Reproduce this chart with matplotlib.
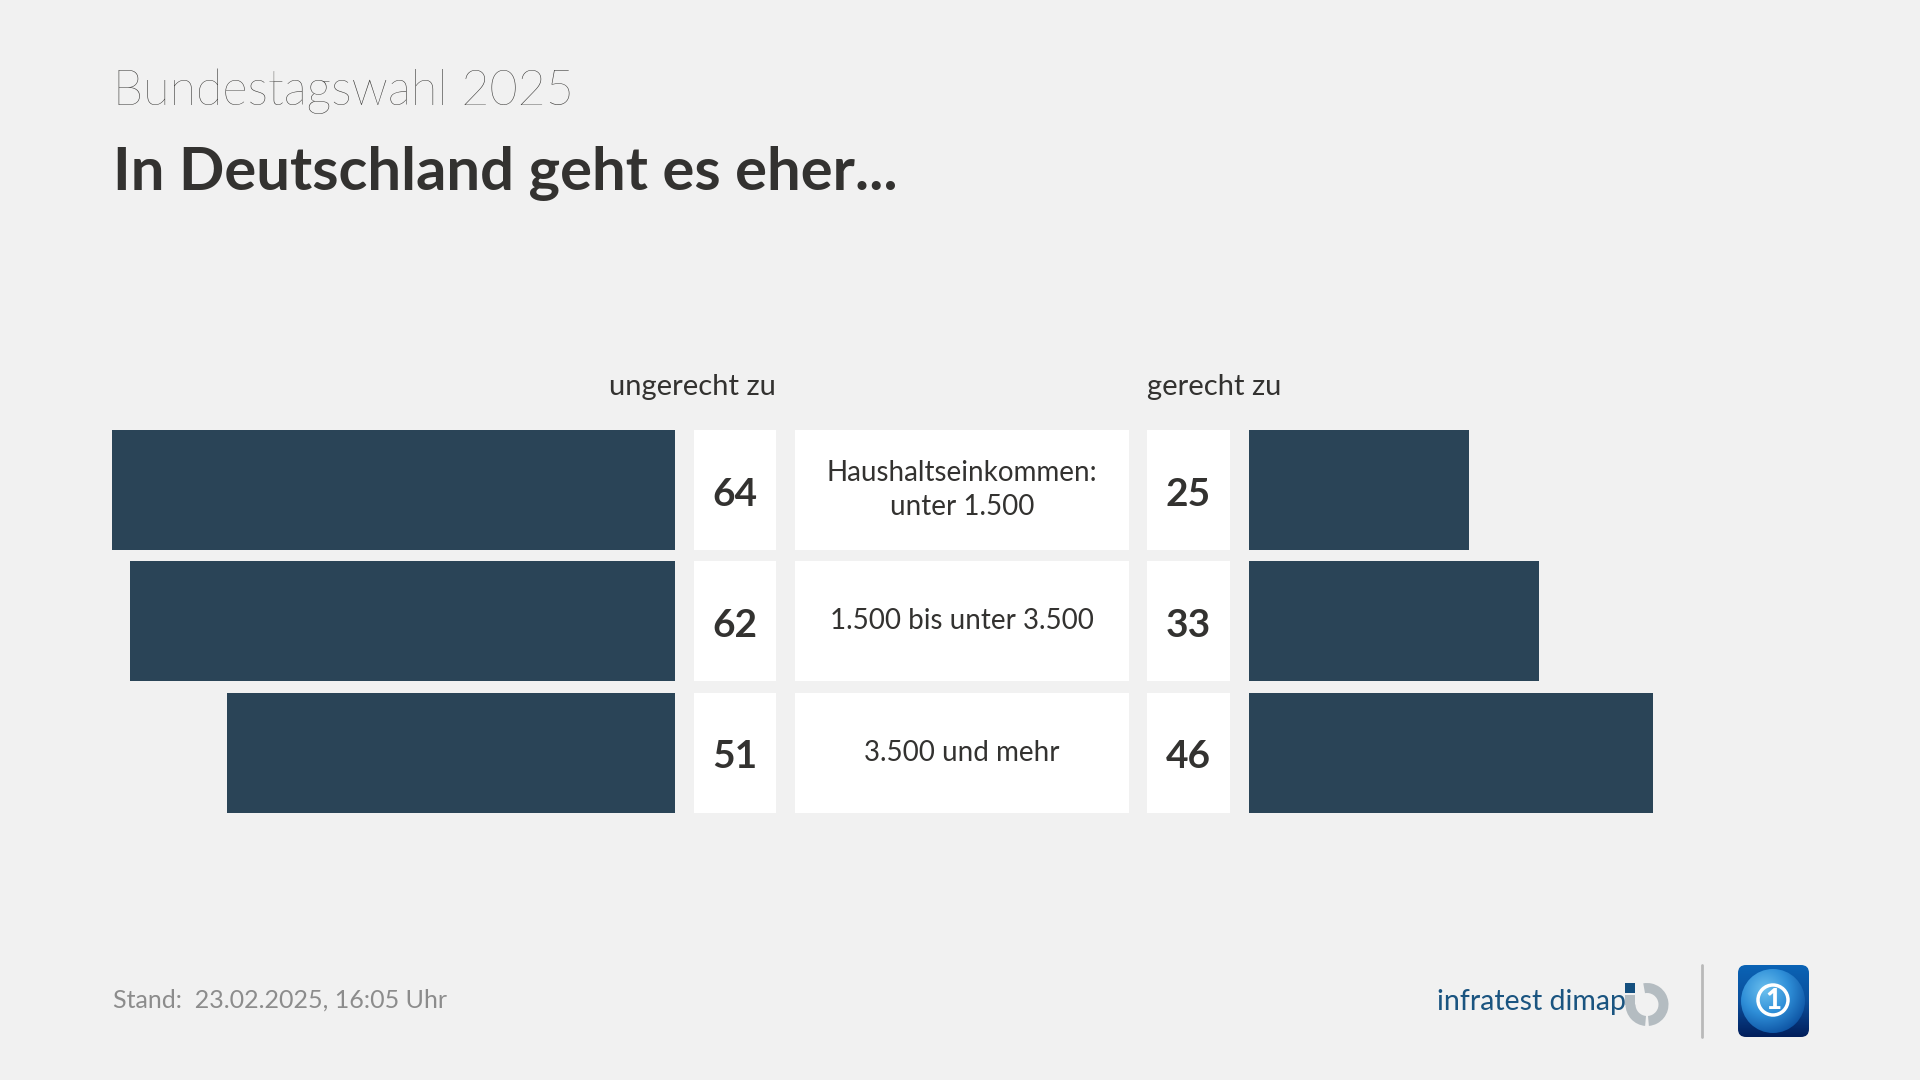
import matplotlib
matplotlib.use("Agg")
import matplotlib.pyplot as plt
import numpy as np
from matplotlib.patches import Circle, FancyBboxPatch, Rectangle, Wedge

# values
categories = ["Haushaltseinkommen:\nunter 1.500", "1.500 bis unter 3.500", "3.500 und mehr"]
ungerecht = [64, 62, 51]
gerecht = [25, 33, 46]

BG = "#f1f1f1"
BAR = "#2a4457"
TEXT = "#333230"
FONT = "Lato"
PX_PER_UNIT = 8.79
W, H = 1920, 1080

plt.rcParams["font.family"] = FONT
fig = plt.figure(figsize=(W / 100, H / 100), dpi=100, facecolor=BG)

# overlay in pixel coordinates for boxes, texts and logos
ov = fig.add_axes([0, 0, 1, 1], zorder=1)
ov.set_xlim(0, W)
ov.set_ylim(H, 0)
ov.axis("off")

# bar axes share the row positions, one unit = one percent point
row_top, row_pitch, row_h = 430, 131.4, 120
y_top = row_top - (row_pitch - row_h) / 2
y_bottom = y_top + row_pitch * len(categories)
bar_h = row_h / row_pitch


def bar_axes(x0, x1, xlim):
    ax = fig.add_axes([x0 / W, 1 - y_bottom / H, (x1 - x0) / W, (y_bottom - y_top) / H], zorder=2)
    ax.set_xlim(*xlim)
    ax.set_ylim(len(categories) - 0.5, -0.5)
    ax.axis("off")
    return ax


ax_l = bar_axes(0, 675, (675 / PX_PER_UNIT, 0))
ax_r = bar_axes(1249, W, (0, (W - 1249) / PX_PER_UNIT))
ax_l.barh(range(len(categories)), ungerecht, height=bar_h, color=BAR)
ax_r.barh(range(len(categories)), gerecht, height=bar_h, color=BAR)

# white cells with numbers and row labels
for i, cat in enumerate(categories):
    y0 = row_top + i * row_pitch
    yc = y0 + row_h / 2
    for x0, x1 in [(694, 776), (795, 1129), (1147, 1230)]:
        ov.add_patch(Rectangle((x0, y0), x1 - x0, row_h, fc="white", ec="none"))
    ov.text(735, yc + 1, str(ungerecht[i]), ha="center", va="center_baseline", fontsize=28, fontweight="bold", color=TEXT)
    ov.text(1188.5, yc + 1, str(gerecht[i]), ha="center", va="center_baseline", fontsize=28, fontweight="bold", color=TEXT)
    ov.text(962, yc, cat, ha="center", va="center", fontsize=20, color=TEXT, linespacing=1.35)

ov.text(776, 395, "ungerecht zu", ha="right", va="baseline", fontsize=21, color=TEXT)
ov.text(1147, 395, "gerecht zu", ha="left", va="baseline", fontsize=21, color=TEXT)

ov.text(113, 105, "Bundestagswahl 2025", ha="left", va="baseline", fontsize=35, fontweight="light", color=TEXT)
ov.text(113, 190, "In Deutschland geht es eher...", ha="left", va="baseline", fontsize=43, fontweight="bold", color=TEXT)
ov.text(113, 1008, "Stand:  23.02.2025, 16:05 Uhr", ha="left", va="baseline", fontsize=18, color="#8c8c8c")

# infratest dimap logo
ov.text(1437, 1010, "infratest dimap", ha="left", va="baseline", fontsize=20.5, color="#1a5480")
ov.add_patch(Rectangle((1625, 983), 10, 10, fc="#15507f", ec="none"))
ring = "#b4bcc1"
ov.add_patch(Wedge((1647, 1004.5), 21.5, -100, 85, width=10, fc=ring, ec="none"))
ov.add_patch(Wedge((1647, 1004.5), 21.5, 95, 180, width=10, fc=ring, ec="none"))
ov.add_patch(Rectangle((1625, 995), 10, 10, fc=ring, ec="none"))
ov.plot([1702, 1702], [965, 1037], color="#b9b9b9", lw=2, solid_capstyle="round")

# tagesschau icon
clip = FancyBboxPatch((1742, 969), 63, 64, boxstyle="round,pad=4,rounding_size=8", fc="none", ec="none")
ov.add_patch(clip)
grad = np.linspace(0, 1, 72)[:, None]
cmap = matplotlib.colors.LinearSegmentedColormap.from_list("bg", ["#0a63b5", "#0b4f9c", "#021f5c"])
img = ov.imshow(grad, extent=(1738, 1809, 1037, 965), cmap=cmap, aspect="auto", zorder=1)
img.set_clip_path(clip)
yy, xx = np.mgrid[-1:1:128j, -1:1:128j]
cmap2 = matplotlib.colors.LinearSegmentedColormap.from_list("globe", ["#6cc0ee", "#2f8fd8", "#0b4f9f"])
globe = ov.imshow(np.hypot(xx + 0.25, yy + 0.35), extent=(1741, 1805, 1033, 969), cmap=cmap2, vmin=0, vmax=1.5, aspect="auto", zorder=2)
globe_clip = Circle((1773, 1001), 32, transform=ov.transData)
globe.set_clip_path(globe_clip)
ov.add_patch(Circle((1773, 1000), 15, fc="none", ec="white", lw=2.5, zorder=3))
ov.text(1773, 1001, "1", ha="center", va="center", fontsize=20, fontweight="black", color="white", zorder=4)
ov.set_xlim(0, W)
ov.set_ylim(H, 0)

fig.savefig("out.png", dpi=100, facecolor=BG)
